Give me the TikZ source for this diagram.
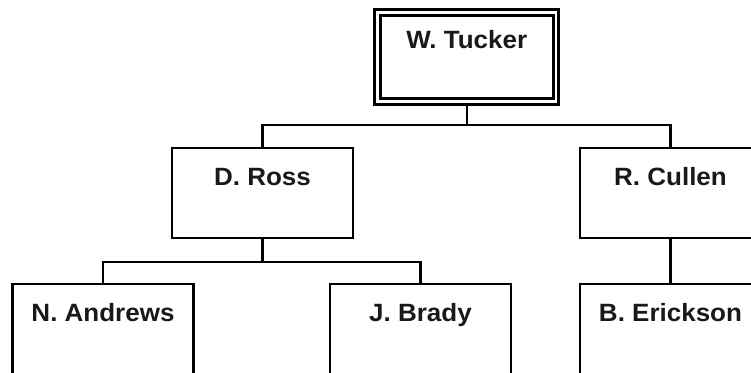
\documentclass[tikz,border=0pt]{standalone}
\usepackage{fontspec}
\setmainfont{Liberation Sans}[FakeStretch=1.04]
\usetikzlibrary{backgrounds}
\begin{document}
\begin{tikzpicture}[x=1pt,y=-1pt,
  person/.style={draw=black, line width=2.2pt, fill=white, rectangle, inner sep=0pt, outer sep=0pt,
    minimum width=181pt, minimum height=90pt, text height=37pt, text depth=53pt,
    font=\fontsize{25}{25}\selectfont\bfseries, text=black!90},
  chief/.style={person, line width=3.3pt, double=white, double distance=2.2pt,
    minimum width=178.5pt, minimum height=89pt, text height=35.5pt, text depth=53.5pt},
  link/.style={draw=black, line width=2.2pt}]
\useasboundingbox (0,0) rectangle (751,372);
\clip (0,0) rectangle (751,372);
\node[chief] (tucker) at (466.7,57) {W. Tucker};
\node[person] (ross) at (262.5,193) {D. Ross};
\node[person] (cullen) at (670.5,193) {R. Cullen};
\node[person] (andrews) at (103,329) {N. Andrews};
\node[person] (brady) at (420.5,329) {J. Brady};
\node[person] (erickson) at (670.5,329) {B. Erickson};
\coordinate (b1) at (466.7,125);
\coordinate (b2) at (262.5,262);
\begin{scope}[on background layer]
\draw[link] (tucker.center) -- (b1);
\draw[link] (ross.center) |- (b1) -| (cullen.center);
\draw[link] (ross.center) -- (b2);
\draw[link] (andrews.center) |- (b2) -| (brady.center);
\draw[link] (cullen.center) -- (erickson.center);
\end{scope}
\end{tikzpicture}
\end{document}
